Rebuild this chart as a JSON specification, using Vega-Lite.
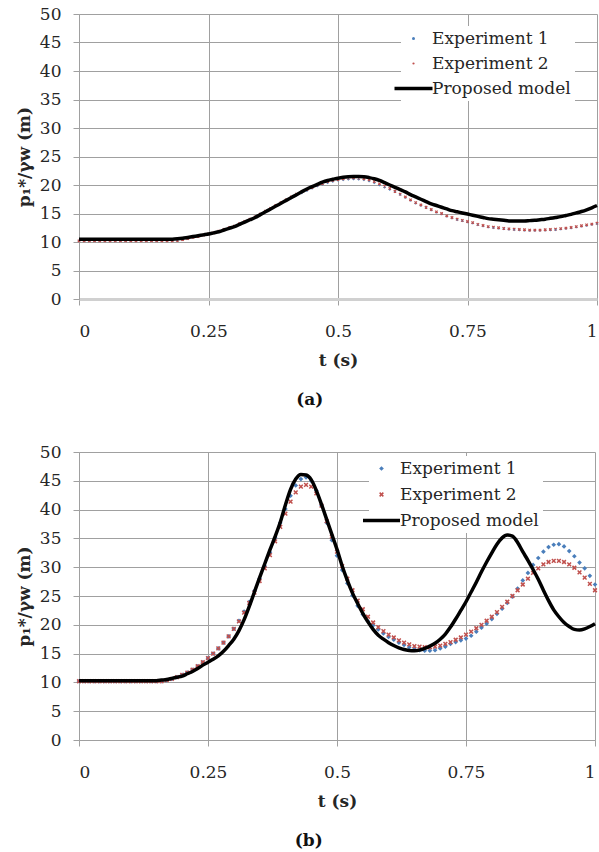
{
  "$schema": "https://vega.github.io/schema/vega-lite/v6.json",
  "padding": {"top": 5, "left": 15, "right": 0, "bottom": 0},
  "config": {
    "font": "DejaVu Serif",
    "view": {"stroke": null},
    "axis": {
      "gridColor": "#a0a0a0", "gridWidth": 1,
      "domainColor": "#a0a0a0", "tickColor": "#a0a0a0", "tickSize": 6,
      "labelFont": "DejaVu Serif", "labelFontSize": 17, "labelColor": "#262626",
      "titleFont": "DejaVu Serif", "titleFontSize": 17, "titleFontWeight": "bold", "titleColor": "#262626"
    },
    "legend": {"labelFont": "DejaVu Serif"},
    "title": {"font": "DejaVu Serif", "fontSize": 17, "fontWeight": "bold", "color": "#111111"}
  },
  "datasets": {
    "pulseA": [
      {"t":0.00,"exp1":10.2,"exp2":10.2,"model":10.5},{"t":0.01,"exp1":10.2,"exp2":10.2,"model":10.5},
      {"t":0.02,"exp1":10.2,"exp2":10.2,"model":10.5},{"t":0.03,"exp1":10.2,"exp2":10.2,"model":10.5},
      {"t":0.04,"exp1":10.2,"exp2":10.2,"model":10.5},{"t":0.05,"exp1":10.2,"exp2":10.2,"model":10.5},
      {"t":0.06,"exp1":10.2,"exp2":10.2,"model":10.5},{"t":0.07,"exp1":10.2,"exp2":10.2,"model":10.5},
      {"t":0.08,"exp1":10.2,"exp2":10.2,"model":10.5},{"t":0.09,"exp1":10.2,"exp2":10.2,"model":10.5},
      {"t":0.10,"exp1":10.2,"exp2":10.2,"model":10.5},{"t":0.11,"exp1":10.2,"exp2":10.2,"model":10.5},
      {"t":0.12,"exp1":10.2,"exp2":10.2,"model":10.5},{"t":0.13,"exp1":10.2,"exp2":10.2,"model":10.5},
      {"t":0.14,"exp1":10.2,"exp2":10.2,"model":10.5},{"t":0.15,"exp1":10.2,"exp2":10.2,"model":10.5},
      {"t":0.16,"exp1":10.2,"exp2":10.2,"model":10.5},{"t":0.17,"exp1":10.2,"exp2":10.2,"model":10.5},
      {"t":0.18,"exp1":10.2,"exp2":10.2,"model":10.5},{"t":0.19,"exp1":10.3,"exp2":10.3,"model":10.55},
      {"t":0.20,"exp1":10.4,"exp2":10.4,"model":10.65},{"t":0.21,"exp1":10.6,"exp2":10.6,"model":10.8},
      {"t":0.22,"exp1":10.8,"exp2":10.8,"model":10.95},{"t":0.23,"exp1":11.0,"exp2":11.0,"model":11.1},
      {"t":0.24,"exp1":11.2,"exp2":11.2,"model":11.25},{"t":0.25,"exp1":11.4,"exp2":11.4,"model":11.4},
      {"t":0.26,"exp1":11.6,"exp2":11.6,"model":11.6},{"t":0.27,"exp1":11.9,"exp2":11.9,"model":11.8},
      {"t":0.28,"exp1":12.2,"exp2":12.2,"model":12.1},{"t":0.29,"exp1":12.5,"exp2":12.5,"model":12.4},
      {"t":0.30,"exp1":12.8,"exp2":12.8,"model":12.7},{"t":0.31,"exp1":13.2,"exp2":13.2,"model":13.1},
      {"t":0.32,"exp1":13.6,"exp2":13.6,"model":13.5},{"t":0.33,"exp1":14.0,"exp2":14.0,"model":13.9},
      {"t":0.34,"exp1":14.4,"exp2":14.4,"model":14.3},{"t":0.35,"exp1":14.9,"exp2":14.9,"model":14.8},
      {"t":0.36,"exp1":15.3,"exp2":15.4,"model":15.3},{"t":0.37,"exp1":15.8,"exp2":15.9,"model":15.8},
      {"t":0.38,"exp1":16.3,"exp2":16.4,"model":16.3},{"t":0.39,"exp1":16.8,"exp2":16.9,"model":16.8},
      {"t":0.40,"exp1":17.3,"exp2":17.4,"model":17.3},{"t":0.41,"exp1":17.7,"exp2":17.9,"model":17.8},
      {"t":0.42,"exp1":18.2,"exp2":18.4,"model":18.3},{"t":0.43,"exp1":18.6,"exp2":18.8,"model":18.8},
      {"t":0.44,"exp1":19.0,"exp2":19.2,"model":19.3},{"t":0.45,"exp1":19.4,"exp2":19.6,"model":19.7},
      {"t":0.46,"exp1":19.8,"exp2":20.0,"model":20.1},{"t":0.47,"exp1":20.1,"exp2":20.3,"model":20.5},
      {"t":0.48,"exp1":20.4,"exp2":20.6,"model":20.8},{"t":0.49,"exp1":20.6,"exp2":20.8,"model":21.0},
      {"t":0.50,"exp1":20.8,"exp2":21.0,"model":21.2},{"t":0.51,"exp1":20.9,"exp2":21.1,"model":21.35},
      {"t":0.52,"exp1":21.0,"exp2":21.2,"model":21.45},{"t":0.53,"exp1":21.05,"exp2":21.25,"model":21.5},
      {"t":0.54,"exp1":21.0,"exp2":21.2,"model":21.5},{"t":0.55,"exp1":20.9,"exp2":21.1,"model":21.45},
      {"t":0.56,"exp1":20.7,"exp2":20.9,"model":21.3},{"t":0.57,"exp1":20.4,"exp2":20.6,"model":21.1},
      {"t":0.58,"exp1":20.0,"exp2":20.2,"model":20.8},{"t":0.59,"exp1":19.6,"exp2":19.8,"model":20.4},
      {"t":0.60,"exp1":19.2,"exp2":19.4,"model":20.0},{"t":0.61,"exp1":18.8,"exp2":18.9,"model":19.6},
      {"t":0.62,"exp1":18.3,"exp2":18.4,"model":19.2},{"t":0.63,"exp1":17.8,"exp2":17.9,"model":18.8},
      {"t":0.64,"exp1":17.3,"exp2":17.4,"model":18.3},{"t":0.65,"exp1":16.8,"exp2":16.9,"model":17.9},
      {"t":0.66,"exp1":16.4,"exp2":16.5,"model":17.5},{"t":0.67,"exp1":16.0,"exp2":16.1,"model":17.1},
      {"t":0.68,"exp1":15.6,"exp2":15.7,"model":16.7},{"t":0.69,"exp1":15.2,"exp2":15.3,"model":16.4},
      {"t":0.70,"exp1":14.9,"exp2":15.0,"model":16.1},{"t":0.71,"exp1":14.5,"exp2":14.6,"model":15.8},
      {"t":0.72,"exp1":14.2,"exp2":14.3,"model":15.5},{"t":0.73,"exp1":13.9,"exp2":14.0,"model":15.3},
      {"t":0.74,"exp1":13.7,"exp2":13.8,"model":15.1},{"t":0.75,"exp1":13.5,"exp2":13.6,"model":14.9},
      {"t":0.76,"exp1":13.3,"exp2":13.4,"model":14.7},{"t":0.77,"exp1":13.0,"exp2":13.1,"model":14.5},
      {"t":0.78,"exp1":12.8,"exp2":12.9,"model":14.3},{"t":0.79,"exp1":12.6,"exp2":12.7,"model":14.1},
      {"t":0.80,"exp1":12.5,"exp2":12.6,"model":14.0},{"t":0.81,"exp1":12.4,"exp2":12.5,"model":13.9},
      {"t":0.82,"exp1":12.3,"exp2":12.4,"model":13.8},{"t":0.83,"exp1":12.2,"exp2":12.3,"model":13.7},
      {"t":0.84,"exp1":12.15,"exp2":12.25,"model":13.7},{"t":0.85,"exp1":12.1,"exp2":12.2,"model":13.7},
      {"t":0.86,"exp1":12.05,"exp2":12.15,"model":13.7},{"t":0.87,"exp1":12.0,"exp2":12.1,"model":13.75},
      {"t":0.88,"exp1":12.0,"exp2":12.1,"model":13.8},{"t":0.89,"exp1":12.0,"exp2":12.1,"model":13.9},
      {"t":0.90,"exp1":12.05,"exp2":12.15,"model":14.0},{"t":0.91,"exp1":12.1,"exp2":12.2,"model":14.15},
      {"t":0.92,"exp1":12.15,"exp2":12.25,"model":14.3},{"t":0.93,"exp1":12.25,"exp2":12.35,"model":14.45},
      {"t":0.94,"exp1":12.35,"exp2":12.45,"model":14.65},{"t":0.95,"exp1":12.45,"exp2":12.55,"model":14.85},
      {"t":0.96,"exp1":12.6,"exp2":12.7,"model":15.1},{"t":0.97,"exp1":12.75,"exp2":12.85,"model":15.35},
      {"t":0.98,"exp1":12.9,"exp2":13.0,"model":15.65},{"t":0.99,"exp1":13.05,"exp2":13.15,"model":16.0},
      {"t":1.00,"exp1":13.2,"exp2":13.3,"model":16.4}
    ],
    "pulseB": [
      {"t":0.00,"exp1":10.2,"exp2":10.2,"model":10.3},{"t":0.01,"exp1":10.2,"exp2":10.2,"model":10.3},
      {"t":0.02,"exp1":10.2,"exp2":10.2,"model":10.3},{"t":0.03,"exp1":10.2,"exp2":10.2,"model":10.3},
      {"t":0.04,"exp1":10.2,"exp2":10.2,"model":10.3},{"t":0.05,"exp1":10.2,"exp2":10.2,"model":10.3},
      {"t":0.06,"exp1":10.2,"exp2":10.2,"model":10.3},{"t":0.07,"exp1":10.2,"exp2":10.2,"model":10.3},
      {"t":0.08,"exp1":10.2,"exp2":10.2,"model":10.3},{"t":0.09,"exp1":10.2,"exp2":10.2,"model":10.3},
      {"t":0.10,"exp1":10.2,"exp2":10.2,"model":10.3},{"t":0.11,"exp1":10.2,"exp2":10.2,"model":10.3},
      {"t":0.12,"exp1":10.2,"exp2":10.2,"model":10.3},{"t":0.13,"exp1":10.2,"exp2":10.2,"model":10.3},
      {"t":0.14,"exp1":10.2,"exp2":10.2,"model":10.3},{"t":0.15,"exp1":10.2,"exp2":10.2,"model":10.3},
      {"t":0.16,"exp1":10.2,"exp2":10.2,"model":10.4},{"t":0.17,"exp1":10.4,"exp2":10.4,"model":10.5},
      {"t":0.18,"exp1":10.6,"exp2":10.6,"model":10.7},{"t":0.19,"exp1":10.9,"exp2":10.9,"model":10.9},
      {"t":0.20,"exp1":11.3,"exp2":11.3,"model":11.1},{"t":0.21,"exp1":11.7,"exp2":11.7,"model":11.5},
      {"t":0.22,"exp1":12.2,"exp2":12.2,"model":11.9},{"t":0.23,"exp1":12.8,"exp2":12.8,"model":12.4},
      {"t":0.24,"exp1":13.5,"exp2":13.5,"model":13.0},{"t":0.25,"exp1":14.2,"exp2":14.2,"model":13.5},
      {"t":0.26,"exp1":15.0,"exp2":15.0,"model":14.0},{"t":0.27,"exp1":15.9,"exp2":15.9,"model":14.6},
      {"t":0.28,"exp1":16.9,"exp2":16.9,"model":15.4},{"t":0.29,"exp1":18.0,"exp2":18.0,"model":16.4},
      {"t":0.30,"exp1":19.3,"exp2":19.3,"model":17.5},{"t":0.31,"exp1":20.7,"exp2":20.6,"model":19.0},
      {"t":0.32,"exp1":22.3,"exp2":22.1,"model":20.9},{"t":0.33,"exp1":24.0,"exp2":23.8,"model":23.2},
      {"t":0.34,"exp1":25.9,"exp2":25.6,"model":25.7},{"t":0.35,"exp1":28.0,"exp2":27.6,"model":28.2},
      {"t":0.36,"exp1":30.2,"exp2":29.8,"model":30.6},{"t":0.37,"exp1":32.6,"exp2":32.1,"model":33.0},
      {"t":0.38,"exp1":35.1,"exp2":34.5,"model":35.3},{"t":0.39,"exp1":37.7,"exp2":37.0,"model":37.8},
      {"t":0.40,"exp1":40.1,"exp2":39.3,"model":40.8},{"t":0.41,"exp1":42.4,"exp2":41.4,"model":43.5},
      {"t":0.42,"exp1":44.2,"exp2":43.0,"model":45.3},{"t":0.43,"exp1":45.3,"exp2":44.0,"model":46.1},
      {"t":0.44,"exp1":45.6,"exp2":44.3,"model":46.0},{"t":0.45,"exp1":45.0,"exp2":44.0,"model":45.2},
      {"t":0.46,"exp1":43.3,"exp2":42.8,"model":43.3},{"t":0.47,"exp1":40.7,"exp2":40.7,"model":40.9},
      {"t":0.48,"exp1":37.7,"exp2":38.0,"model":38.3},{"t":0.49,"exp1":34.7,"exp2":35.3,"model":35.7},
      {"t":0.50,"exp1":32.0,"exp2":32.7,"model":33.1},{"t":0.51,"exp1":29.5,"exp2":30.2,"model":30.2},
      {"t":0.52,"exp1":27.2,"exp2":28.0,"model":27.7},{"t":0.53,"exp1":25.1,"exp2":26.0,"model":25.5},
      {"t":0.54,"exp1":23.3,"exp2":24.2,"model":23.7},{"t":0.55,"exp1":21.8,"exp2":22.7,"model":22.0},
      {"t":0.56,"exp1":20.6,"exp2":21.4,"model":20.5},{"t":0.57,"exp1":19.9,"exp2":20.4,"model":19.2},
      {"t":0.58,"exp1":19.2,"exp2":19.6,"model":18.2},{"t":0.59,"exp1":18.5,"exp2":18.9,"model":17.5},
      {"t":0.60,"exp1":17.9,"exp2":18.3,"model":16.9},{"t":0.61,"exp1":17.4,"exp2":17.8,"model":16.4},
      {"t":0.62,"exp1":16.9,"exp2":17.3,"model":16.0},{"t":0.63,"exp1":16.5,"exp2":16.9,"model":15.7},
      {"t":0.64,"exp1":16.1,"exp2":16.6,"model":15.55},{"t":0.65,"exp1":15.8,"exp2":16.3,"model":15.5},
      {"t":0.66,"exp1":15.6,"exp2":16.2,"model":15.6},{"t":0.67,"exp1":15.5,"exp2":16.1,"model":15.9},
      {"t":0.68,"exp1":15.5,"exp2":16.1,"model":16.3},{"t":0.69,"exp1":15.6,"exp2":16.2,"model":16.8},
      {"t":0.70,"exp1":15.9,"exp2":16.4,"model":17.5},{"t":0.71,"exp1":16.2,"exp2":16.7,"model":18.4},
      {"t":0.72,"exp1":16.7,"exp2":17.0,"model":19.6},{"t":0.73,"exp1":17.0,"exp2":17.4,"model":21.0},
      {"t":0.74,"exp1":17.3,"exp2":17.8,"model":22.5},{"t":0.75,"exp1":17.6,"exp2":18.3,"model":24.0},
      {"t":0.76,"exp1":18.1,"exp2":18.8,"model":25.7},{"t":0.77,"exp1":18.8,"exp2":19.4,"model":27.4},
      {"t":0.78,"exp1":19.5,"exp2":20.0,"model":29.2},{"t":0.79,"exp1":20.2,"exp2":20.7,"model":30.9},
      {"t":0.80,"exp1":21.0,"exp2":21.4,"model":32.5},{"t":0.81,"exp1":21.9,"exp2":22.2,"model":34.0},
      {"t":0.82,"exp1":22.8,"exp2":23.1,"model":35.1},{"t":0.83,"exp1":23.8,"exp2":24.0,"model":35.6},
      {"t":0.84,"exp1":24.9,"exp2":25.0,"model":35.4},{"t":0.85,"exp1":26.3,"exp2":26.0,"model":34.3},
      {"t":0.86,"exp1":27.7,"exp2":27.0,"model":32.7},{"t":0.87,"exp1":29.0,"exp2":28.0,"model":31.2},
      {"t":0.88,"exp1":30.4,"exp2":29.0,"model":29.6},{"t":0.89,"exp1":31.6,"exp2":29.8,"model":27.9},
      {"t":0.90,"exp1":32.7,"exp2":30.5,"model":26.0},{"t":0.91,"exp1":33.5,"exp2":30.9,"model":24.2},
      {"t":0.92,"exp1":33.9,"exp2":31.1,"model":22.6},{"t":0.93,"exp1":34.0,"exp2":31.1,"model":21.4},
      {"t":0.94,"exp1":33.6,"exp2":30.9,"model":20.4},{"t":0.95,"exp1":32.8,"exp2":30.5,"model":19.7},
      {"t":0.96,"exp1":31.9,"exp2":29.9,"model":19.2},{"t":0.97,"exp1":30.8,"exp2":29.1,"model":19.1},
      {"t":0.98,"exp1":29.8,"exp2":28.2,"model":19.3},{"t":0.99,"exp1":28.5,"exp2":27.1,"model":19.7},
      {"t":1.00,"exp1":27.0,"exp2":26.0,"model":20.2}
    ]
  },
  "resolve": {"scale": {"color": "independent"}, "legend": {"color": "independent"}},
  "spacing": 35,
  "vconcat": [
    {
      "width": 518,
      "height": 285,
      "title": {"text": "(a)", "orient": "bottom", "anchor": "middle", "frame": "bounds", "offset": 24},
      "data": {"name": "pulseA"},
      "transform": [{"fold": ["exp1", "exp2", "model"], "as": ["series", "v"]}],
      "encoding": {
        "x": {
          "field": "t", "type": "quantitative",
          "scale": {"domain": [0, 1], "nice": false},
          "axis": {"values": [0, 0.25, 0.5, 0.75, 1], "format": ".2~f", "title": "t (s)", "labelPadding": 18, "titlePadding": 13, "domainColor": "#d0d0d0", "domainWidth": 3}
        },
        "y": {
          "field": "v", "type": "quantitative",
          "scale": {"domain": [0, 50], "nice": false},
          "axis": {"values": [0, 5, 10, 15, 20, 25, 30, 35, 40, 45, 50], "title": "p₁*/γw (m)", "labelPadding": 12, "titlePadding": 6}
        },
        "color": {
          "field": "series", "type": "nominal",
          "scale": {"domain": ["exp1", "exp2", "model"], "range": ["#4a7ebb", "#c0504d", "#000000"]},
          "legend": {
            "orient": "none", "legendX": 322, "legendY": 12, "title": null,
            "fillColor": "white", "padding": 4, "symbolSize": 1764, "rowPadding": 7,
            "labelFontSize": 17, "labelColor": "#262626", "labelOffset": 10,
            "labelExpr": "datum.label === 'exp1' ? 'Experiment 1' : datum.label === 'exp2' ? 'Experiment 2' : 'Proposed model'",
            "encode": {
              "symbols": {
                "update": {
                  "shape": {"signal": "datum.value === 'model' ? 'stroke' : 'circle'"},
                  "size": {"signal": "datum.value === 'model' ? 1444 : datum.value === 'exp1' ? 9 : 5"},
                  "fill": {"signal": "datum.value === 'exp1' ? '#4a7ebb' : datum.value === 'exp2' ? '#c0504d' : 'transparent'"},
                  "stroke": {"signal": "datum.value === 'model' ? '#000000' : 'transparent'"},
                  "strokeWidth": {"signal": "datum.value === 'model' ? 3.5 : 0"},
                  "opacity": {"value": 1}
                }
              }
            }
          }
        }
      },
      "layer": [
        {
          "transform": [{"filter": "datum.series === 'exp1'"}],
          "mark": {"type": "point", "shape": "diamond", "filled": true, "size": 8, "opacity": 1}
        },
        {
          "transform": [{"filter": "datum.series === 'exp2'"}],
          "mark": {"type": "point", "shape": "M-1,-1L1,1M1,-1L-1,1", "filled": false, "size": 6, "strokeWidth": 1.2, "opacity": 1}
        },
        {
          "transform": [{"filter": "datum.series === 'model'"}],
          "mark": {"type": "line", "strokeWidth": 3.5, "interpolate": "monotone"}
        }
      ]
    },
    {
      "width": 516,
      "height": 288,
      "title": {"text": "(b)", "orient": "bottom", "anchor": "middle", "frame": "bounds", "offset": 24},
      "data": {"name": "pulseB"},
      "transform": [{"fold": ["exp1", "exp2", "model"], "as": ["series", "v"]}],
      "encoding": {
        "x": {
          "field": "t", "type": "quantitative",
          "scale": {"domain": [0, 1], "nice": false},
          "axis": {"values": [0, 0.25, 0.5, 0.75, 1], "format": ".2~f", "title": "t (s)", "labelPadding": 18, "titlePadding": 13}
        },
        "y": {
          "field": "v", "type": "quantitative",
          "scale": {"domain": [0, 50], "nice": false},
          "axis": {"values": [0, 5, 10, 15, 20, 25, 30, 35, 40, 45, 50], "title": "p₁*/γw (m)", "labelPadding": 12, "titlePadding": 6}
        },
        "color": {
          "field": "series", "type": "nominal",
          "scale": {"domain": ["exp1", "exp2", "model"], "range": ["#4a7ebb", "#c0504d", "#000000"]},
          "legend": {
            "orient": "none", "legendX": 290, "legendY": 4, "title": null,
            "fillColor": "white", "padding": 4, "symbolSize": 1764, "rowPadding": 8,
            "labelFontSize": 17, "labelColor": "#262626", "labelOffset": 10,
            "labelExpr": "datum.label === 'exp1' ? 'Experiment 1' : datum.label === 'exp2' ? 'Experiment 2' : 'Proposed model'",
            "encode": {
              "symbols": {
                "update": {
                  "shape": {"signal": "datum.value === 'model' ? 'stroke' : datum.value === 'exp1' ? 'diamond' : 'M-1,-1L1,1M1,-1L-1,1'"},
                  "size": {"signal": "datum.value === 'model' ? 1369 : datum.value === 'exp1' ? 22 : 14"},
                  "fill": {"signal": "datum.value === 'exp1' ? '#4a7ebb' : 'transparent'"},
                  "stroke": {"signal": "datum.value === 'model' ? '#000000' : datum.value === 'exp2' ? '#c0504d' : 'transparent'"},
                  "strokeWidth": {"signal": "datum.value === 'model' ? 3.5 : datum.value === 'exp2' ? 1.5 : 0"},
                  "opacity": {"value": 1}
                }
              }
            }
          }
        }
      },
      "layer": [
        {
          "transform": [{"filter": "datum.series === 'exp1'"}],
          "mark": {"type": "point", "shape": "diamond", "filled": true, "size": 22, "opacity": 1}
        },
        {
          "transform": [{"filter": "datum.series === 'exp2'"}],
          "mark": {"type": "point", "shape": "M-1,-1L1,1M1,-1L-1,1", "filled": false, "size": 14, "strokeWidth": 1.5, "opacity": 1}
        },
        {
          "transform": [{"filter": "datum.series === 'model'"}],
          "mark": {"type": "line", "strokeWidth": 3.5, "interpolate": "monotone"}
        }
      ]
    }
  ]
}
